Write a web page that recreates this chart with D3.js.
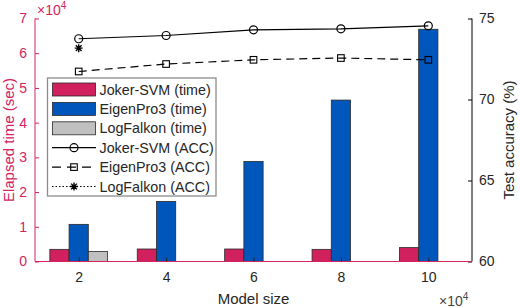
<!DOCTYPE html>
<html>
<head>
<meta charset="utf-8">
<script src="https://cdn.jsdelivr.net/npm/d3@7"></script>
<style>
  html, body { margin: 0; padding: 0; background: #fff; }
  svg { display: block; font-family: "Liberation Sans", Arial, Helvetica, sans-serif; }
</style>
</head>
<body>
<svg id="chart" width="520" height="308"></svg>
<script>
// ---- data ----
const modelSizes = [2, 4, 6, 8, 10];             // x 10^4
const jokerTime = [0.35, 0.36, 0.36, 0.35, 0.40]; // x 10^4 sec
const eigenTime = [1.07, 1.73, 2.88, 4.65, 6.69];
const logfalkonTime = [0.29, null, null, null, null];
const jokerAcc = [73.75, 73.95, 74.30, 74.36, 74.55];
const eigenAcc = [71.73, 72.19, 72.45, 72.56, 72.45];
const logfalkonAcc = [73.17, null, null, null, null];
const leftTicks = [0, 1, 2, 3, 4, 5, 6, 7];
const rightTicks = [60, 65, 70, 75];
const xTicks = [2, 4, 6, 8, 10];
const legendLabels = ["Joker-SVM (time)", "EigenPro3 (time)", "LogFalkon (time)",
                      "Joker-SVM (ACC)", "EigenPro3 (ACC)", "LogFalkon (ACC)"];

const C_JOKER = "#d1205e", C_EIGEN = "#0056bb", C_LOG = "#c0c0c0";
const C_LEFT = "#d3245f", C_TXT = "#262626";

const svg = d3.select("#chart");
const L = 35, R = 472, T = 18.5, B = 261.5;

const x = d3.scaleLinear().domain([1, 11]).range([L, R]);
const yL = d3.scaleLinear().domain([0, 7]).range([B, T]);
const yR = d3.scaleLinear().domain([60, 75]).range([B, T]);
const bw = x(0.44) - x(0);

// ---- bars ----
const barSeries = [
  {vals: jokerTime, color: C_JOKER, off: -1},
  {vals: eigenTime, color: C_EIGEN, off: 0},
  {vals: logfalkonTime, color: C_LOG, off: 1}
];
barSeries.forEach(s => {
  svg.append("g").selectAll("rect")
    .data(modelSizes.map((m, i) => ({m, v: s.vals[i]})).filter(d => d.v != null))
    .join("rect")
    .attr("x", d => x(d.m) + s.off * bw - bw / 2)
    .attr("width", bw)
    .attr("y", d => yL(d.v))
    .attr("height", d => yL(0) - yL(d.v))
    .attr("fill", s.color)
    .attr("stroke", "#2a2a2a")
    .attr("stroke-width", 0.8);
});

// ---- axes ----
// left
const gl = svg.append("g").attr("transform", `translate(${L},0)`)
  .call(d3.axisLeft(yL).tickValues(leftTicks).tickFormat(d3.format("d")).tickSize(-4).tickPadding(8));
gl.select(".domain").attr("stroke", C_LEFT).attr("d", `M0,${B}V${T}`);
gl.selectAll(".tick line").attr("stroke", C_LEFT);
gl.selectAll(".tick text").attr("fill", C_LEFT).style("font-size", "14px").attr("font-family", null);

// right
const gr = svg.append("g").attr("transform", `translate(${R},0)`)
  .call(d3.axisRight(yR).tickValues(rightTicks).tickSize(-4).tickPadding(7));
gr.select(".domain").attr("stroke", "#000").attr("d", `M0,${B}V${T}`);
gr.selectAll(".tick line").attr("stroke", "#000");
gr.selectAll(".tick text").attr("fill", C_TXT).style("font-size", "14px").attr("font-family", null);

// bottom
const gb = svg.append("g").attr("transform", `translate(0,${B})`)
  .call(d3.axisBottom(x).tickValues(xTicks).tickSize(-4).tickPadding(11));
gb.select(".domain").attr("stroke", C_LEFT).attr("d", `M${L},0H${R}`);
gb.selectAll(".tick line").attr("stroke", C_TXT);
gb.selectAll(".tick text").attr("fill", C_TXT).style("font-size", "14px").attr("font-family", null);

// exponent labels
const exTL = svg.append("text").attr("x", 37).attr("y", 15).attr("fill", C_LEFT).style("font-size", "14px");
exTL.append("tspan").text("×10");
exTL.append("tspan").attr("dy", -6).style("font-size", "10px").text("4");
const exBR = svg.append("text").attr("x", 439).attr("y", 305.5).attr("fill", "#444").style("font-size", "14px");
exBR.append("tspan").text("×10");
exBR.append("tspan").attr("dy", -6).style("font-size", "10px").text("4");

// axis labels
svg.append("text").attr("transform", `translate(${(L + R) / 2},304)`).attr("text-anchor", "middle")
  .attr("fill", C_TXT).style("font-size", "15px").text("Model size");
svg.append("text").attr("transform", `translate(14,${(T + B) / 2}) rotate(-90)`).attr("text-anchor", "middle")
  .attr("fill", C_LEFT).style("font-size", "15px").text("Elapsed time (sec)");
svg.append("text").attr("transform", `translate(514,${(T + B) / 2}) rotate(-90)`).attr("text-anchor", "middle")
  .attr("fill", C_TXT).style("font-size", "15px").text("Test accuracy (%)");

// ---- lines ----
function starPath(cx, cy, r) {
  const d = r * 0.72;
  return `M${cx - r},${cy}H${cx + r}M${cx},${cy - r}V${cy + r}` +
         `M${cx - d},${cy - d}L${cx + d},${cy + d}M${cx - d},${cy + d}L${cx + d},${cy - d}`;
}
function drawMarker(g, type, cx, cy) {
  if (type === "circle") {
    g.append("circle").attr("cx", cx).attr("cy", cy).attr("r", 4)
      .attr("fill", "none").attr("stroke", "#000").attr("stroke-width", 1.2);
  } else if (type === "square") {
    g.append("rect").attr("x", cx - 3.3).attr("y", cy - 3.3).attr("width", 6.6).attr("height", 6.6)
      .attr("fill", "none").attr("stroke", "#000").attr("stroke-width", 1.1);
  } else {
    g.append("path").attr("d", starPath(cx, cy, 4)).attr("stroke", "#000").attr("stroke-width", 1.4);
  }
}
const lineSeries = [
  {vals: jokerAcc, dash: null, marker: "circle"},
  {vals: eigenAcc, dash: "8,5", marker: "square"},
  {vals: logfalkonAcc, dash: "1.5,2", marker: "star"}
];
const line = d3.line().defined(d => d.v != null).x(d => x(d.m)).y(d => yR(d.v));
lineSeries.forEach(s => {
  const pts = modelSizes.map((m, i) => ({m, v: s.vals[i]}));
  const g = svg.append("g");
  g.append("path").attr("d", line(pts)).attr("fill", "none").attr("stroke", "#000")
    .attr("stroke-width", 1.2).attr("stroke-dasharray", s.dash);
  pts.filter(d => d.v != null).forEach(d => drawMarker(g, s.marker, x(d.m), yR(d.v)));
});

// ---- legend ----
const lg = svg.append("g");
lg.append("rect").attr("x", 47.5).attr("y", 78).attr("width", 168.5).attr("height", 118)
  .attr("fill", "#fff").attr("stroke", "#8c8c8c").attr("stroke-width", 1.3);
const rowY = i => 89.5 + i * 19.4;
const swatches = [C_JOKER, C_EIGEN, C_LOG];
legendLabels.forEach((lab, i) => {
  const cy = rowY(i);
  if (i < 3) {
    lg.append("rect").attr("x", 52.5).attr("y", cy - 6.5).attr("width", 43).attr("height", 13)
      .attr("fill", swatches[i]).attr("stroke", "#2a2a2a").attr("stroke-width", 0.8);
  } else {
    const s = lineSeries[i - 3];
    lg.append("path").attr("d", `M52,${cy}H96`).attr("stroke", "#000").attr("stroke-width", 1.2)
      .attr("stroke-dasharray", s.dash ? (i === 4 ? "9,6" : "1.5,2") : null);
    drawMarker(lg, s.marker, 74, cy);
  }
  lg.append("text").attr("x", 99.5).attr("y", cy + 5).attr("fill", C_TXT)
    .style("font-size", "14.3px").text(lab);
});
</script>
</body>
</html>
